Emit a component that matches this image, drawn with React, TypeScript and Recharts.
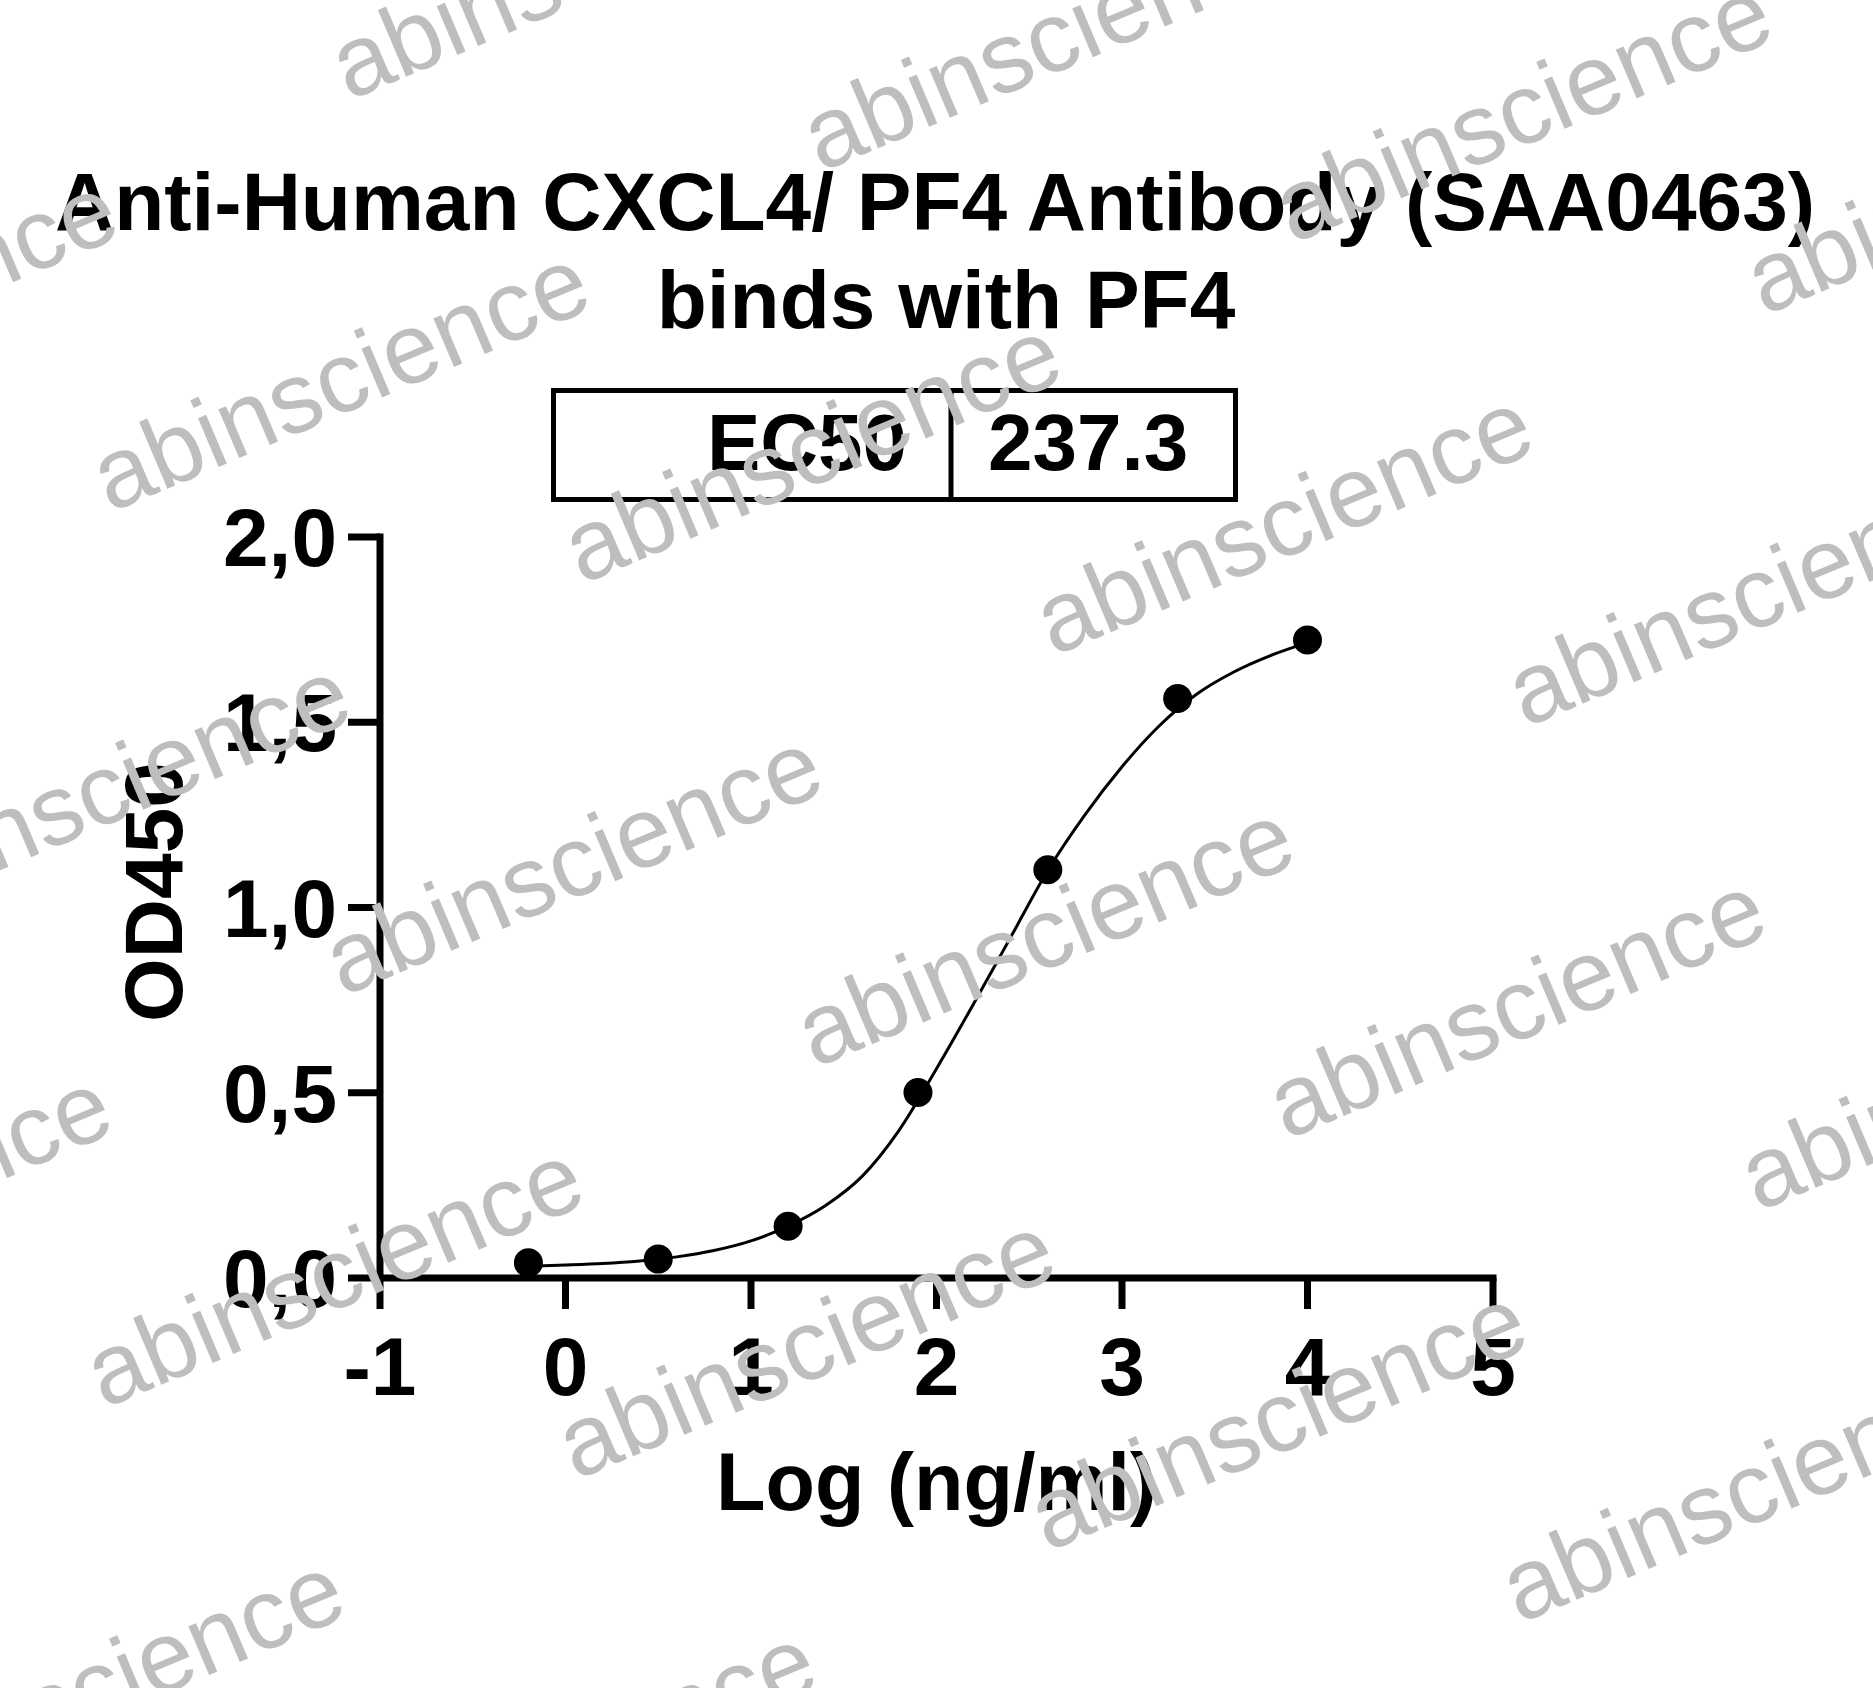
import { ComposedChart, Line, Scatter, XAxis, YAxis } from "recharts";

// measured points, x = log10(ng/ml)
const logConc = [-0.2, 0.5, 1.2, 1.9, 2.6, 3.3, 4.0];
const od450 = [0.041, 0.051, 0.14, 0.501, 1.102, 1.564, 1.722];

// fitted curve
const fitX = [-0.2, 0, 0.2, 0.4, 0.6, 0.8, 1.0, 1.2, 1.4, 1.6, 1.8, 2.0, 2.2, 2.4, 2.6, 2.8, 3.0, 3.2, 3.4, 3.6, 3.8, 4.0];
const fitY = [0.032, 0.035, 0.039, 0.046, 0.057, 0.074, 0.1, 0.14, 0.195, 0.275, 0.4, 0.565, 0.74, 0.92, 1.1, 1.25, 1.38, 1.49, 1.575, 1.635, 1.68, 1.715];

const xTicks = [-1, 0, 1, 2, 3, 4, 5];
const yTicks = [0, 0.5, 1, 1.5, 2];

const titleLines = ["Anti-Human CXCL4/ PF4 Antibody (SAA0463)", "binds with PF4"];
const ec50Label = "EC50";
const ec50Value = "237.3";
const xTitle = "Log (ng/ml)";
const yTitle = "OD450";
const watermark = "abinscience";

const W = 1873;
const H = 1688;
const FONT = "'Liberation Sans', Arial, Helvetica, sans-serif";

const points = logConc.map((x, i) => ({ x, y: od450[i] }));
const curve = fitX.map((x, i) => ({ x, y: fitY[i] }));

const tickStyle = { fill: "#000", fontSize: 82, fontWeight: 700, fontFamily: FONT };
const axisStroke = { stroke: "#000", strokeWidth: 7, strokeLinecap: "square" as const };

function Dot(p: any) {
  return <circle cx={p.cx} cy={p.cy} r={14.5} fill="#000" />;
}

// repeating watermark lattice
const wmOrigin = [110, 513];
const wmStepA = [471.8, 71.7];
const wmStepC = [-238.9, 412.1];
const wmSpots: { x: number; y: number }[] = [];
for (let j = -2; j <= 4; j++) {
  for (let i = -2; i <= 5; i++) {
    const x = wmOrigin[0] + i * wmStepA[0] + j * wmStepC[0];
    const y = wmOrigin[1] + i * wmStepA[1] + j * wmStepC[1];
    if (x > -600 && x < W + 50 && y > -50 && y < H + 300) wmSpots.push({ x, y });
  }
}

export default function App() {
  return (
    <div style={{ position: "absolute", left: 0, top: 0, width: W, height: H, background: "#fff" }}>
      <ComposedChart
        width={W}
        height={H}
        margin={{ top: 537, right: 380, bottom: 178, left: 0 }}
      >
        <XAxis
          type="number"
          dataKey="x"
          domain={[-1, 5]}
          ticks={xTicks}
          allowDataOverflow
          height={232}
          axisLine={axisStroke}
          tickLine={{ stroke: "#000", strokeWidth: 7 }}
          tickSize={31}
          tickMargin={28}
          tick={tickStyle}
          label={{
            value: xTitle,
            position: "insideBottom",
            offset: 0,
            fill: "#000",
            fontSize: 81,
            fontWeight: 700,
            fontFamily: FONT,
          }}
        />
        <YAxis
          type="number"
          domain={[0, 2]}
          ticks={yTicks}
          width={380}
          axisLine={axisStroke}
          tickLine={{ stroke: "#000", strokeWidth: 7 }}
          tickSize={32}
          tickMargin={11}
          tick={tickStyle}
          tickFormatter={(v: number) => v.toFixed(1).replace(".", ",")}
          label={{
            content: () => (
              <text
                x={153}
                y={892}
                transform="rotate(-90 153 892)"
                textAnchor="middle"
                dy={29}
                fill="#000"
                fontSize={82}
                fontWeight={700}
                fontFamily={FONT}
              >
                {yTitle}
              </text>
            ),
          }}
        />
        <Line
          data={curve}
          dataKey="y"
          type="monotone"
          stroke="#000"
          strokeWidth={3}
          dot={false}
          activeDot={false}
          isAnimationActive={false}
        />
        <Scatter data={points} dataKey="y" fill="#000" shape={Dot} isAnimationActive={false} />
      </ComposedChart>

      <svg
        width={W}
        height={H}
        style={{ position: "absolute", left: 0, top: 0, pointerEvents: "none" }}
      >
        <g fontFamily={FONT} fontWeight={700} fill="#000">
          <text x={935} y={230} fontSize={82} textAnchor="middle">{titleLines[0]}</text>
          <text x={946} y={328} fontSize={82} textAnchor="middle">{titleLines[1]}</text>
          <rect x={553.5} y={390.5} width={682} height={109} fill="none" stroke="#000" strokeWidth={5} />
          <line x1={951} y1={390.5} x2={951} y2={499.5} stroke="#000" strokeWidth={5} />
          <text x={907} y={470} fontSize={80} textAnchor="end">{ec50Label}</text>
          <text x={988} y={470} fontSize={80}>{ec50Value}</text>
        </g>
        <g fontFamily={FONT} fontSize={100} fill="#bebebe">
          {wmSpots.map((s, i) => (
            <text key={i} x={s.x} y={s.y} transform={`rotate(-23 ${s.x} ${s.y})`}>
              {watermark}
            </text>
          ))}
        </g>
      </svg>
    </div>
  );
}
